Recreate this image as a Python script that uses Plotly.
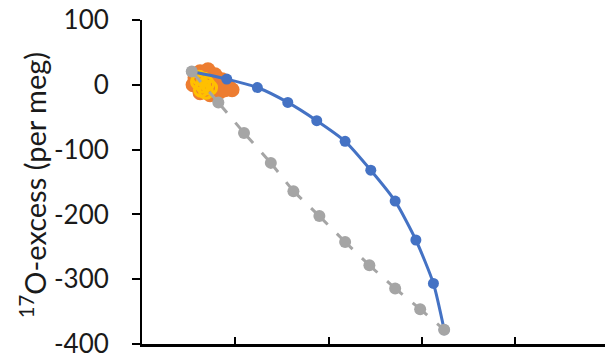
import math
import plotly.graph_objects as go

# Model curve (blue, solid)
blue_x = [5.33, 9.08, 12.36, 15.62, 18.72, 21.76, 24.51, 27.12, 29.34, 31.22, 32.37]
blue_y = [20.5, 8.8, -4.2, -27.2, -55.4, -87.2, -131.8, -179.5, -239.5, -306.6, -378]

# Model line (gray, dashed)
gray_x = [5.33, 8.18, 10.93, 13.8, 16.22, 19.0, 21.76, 24.36, 27.12, 29.80, 32.37]
gray_y = [20.5, -27.2, -74.3, -120.5, -164.2, -202.6, -242.6, -278.5, -314.3, -346.2, -378]

# Observations (orange, filled)
orange_x = [6.22, 7.07, 7.82, 8.57, 9.22, 9.65, 8.36, 7.29, 6.22, 5.47, 5.68, 6.75, 7.61, 8.90, 8.15, 7.40]
orange_y = [20, 23.1, 15.4, 7.7, -1.5, -7.7, -10.8, -15.4, -12.3, 0, 10.8, 0, -4.6, -7.7, 1.5, 7.7]
orange_err = [0, 0, 0, 0, 0, 0, 0, 0, 0, 0, 0, 0, 0, 0, 0, 23]

# Observations (yellow, open rings)
yellow_x = [6.0, 6.54, 6.97, 6.32, 6.86, 7.29, 6.11, 6.65]
yellow_y = [4.6, -1.5, 1.5, -7.7, -10.8, -4.6, 10.8, 7.7]

y_ticks = [100, 0, -100, -200, -300, -400]
y_tick_text = [str(v) for v in y_ticks]
x_ticks = [10, 20, 30, 40]

X_RANGE = [0, 49.6]
Y_RANGE = [-400, 100]
W, H = 605, 354
M = dict(l=142, r=0, t=20, b=10)
px_x = (W - M["l"] - M["r"]) / (X_RANGE[1] - X_RANGE[0])
px_y = (H - M["t"] - M["b"]) / (Y_RANGE[1] - Y_RANGE[0])

fig = go.Figure()
fig.add_trace(go.Scatter(
    x=orange_x, y=orange_y, mode="markers",
    marker=dict(color="#ED7D31", size=15),
    error_y=dict(type="data", array=orange_err, arrayminus=[0] * len(orange_err),
                 color="#ED7D31", thickness=2, width=0),
))
fig.add_trace(go.Scatter(
    x=yellow_x, y=yellow_y, mode="markers",
    marker=dict(color="rgba(0,0,0,0)", size=13, line=dict(color="#FFC000", width=3)),
))
fig.add_trace(go.Scatter(
    x=blue_x, y=blue_y, mode="lines+markers",
    line=dict(color="#4472C4", width=3, shape="spline", smoothing=0.6),
    marker=dict(color="#4472C4", size=11),
))
# gray dashed line: dashes centred on each point, constant gap
GAP = 13
for i in range(len(gray_x) - 1):
    L = math.hypot((gray_x[i + 1] - gray_x[i]) * px_x, (gray_y[i + 1] - gray_y[i]) * px_y)
    d = max((L - GAP) / 2, 1)
    fig.add_trace(go.Scatter(
        x=gray_x[i:i + 2], y=gray_y[i:i + 2], mode="lines",
        line=dict(color="#A5A5A5", width=3, dash=f"{d:.1f}px,{GAP}px,{d:.1f}px"),
    ))
fig.add_trace(go.Scatter(
    x=gray_x, y=gray_y, mode="markers",
    marker=dict(color="#A5A5A5", size=12),
))

fig.update_layout(
    width=W, height=H,
    margin=M,
    paper_bgcolor="white", plot_bgcolor="white",
    showlegend=False,
    font=dict(family="Lato", color="#1a1a1a", size=26),
    xaxis=dict(range=X_RANGE, tickvals=x_ticks, showticklabels=False,
               ticks="inside", ticklen=7, tickwidth=2, tickcolor="black",
               showline=True, linecolor="black", linewidth=2.5,
               showgrid=False, zeroline=False, automargin=False),
    yaxis=dict(range=Y_RANGE, tickvals=y_ticks, ticktext=y_tick_text,
               ticks="outside", ticklen=8,
               tickwidth=2, tickcolor="black", showline=True, linecolor="black",
               linewidth=2, showgrid=False, zeroline=False, automargin=False,
               ticklabelstandoff=18, ticklabeloverflow="allow",
               tickfont=dict(family="Lato", size=26, color="#1a1a1a")),
    annotations=[dict(
        text="<sup>17</sup>O-excess (per meg)", textangle=-90,
        xref="paper", yref="paper", x=(33 - 142) / 463, y=0.49,
        xanchor="center", yanchor="middle", showarrow=False,
        font=dict(family="Lato", size=29, color="#1a1a1a"),
    )],
)

fig.write_html("out.html")
